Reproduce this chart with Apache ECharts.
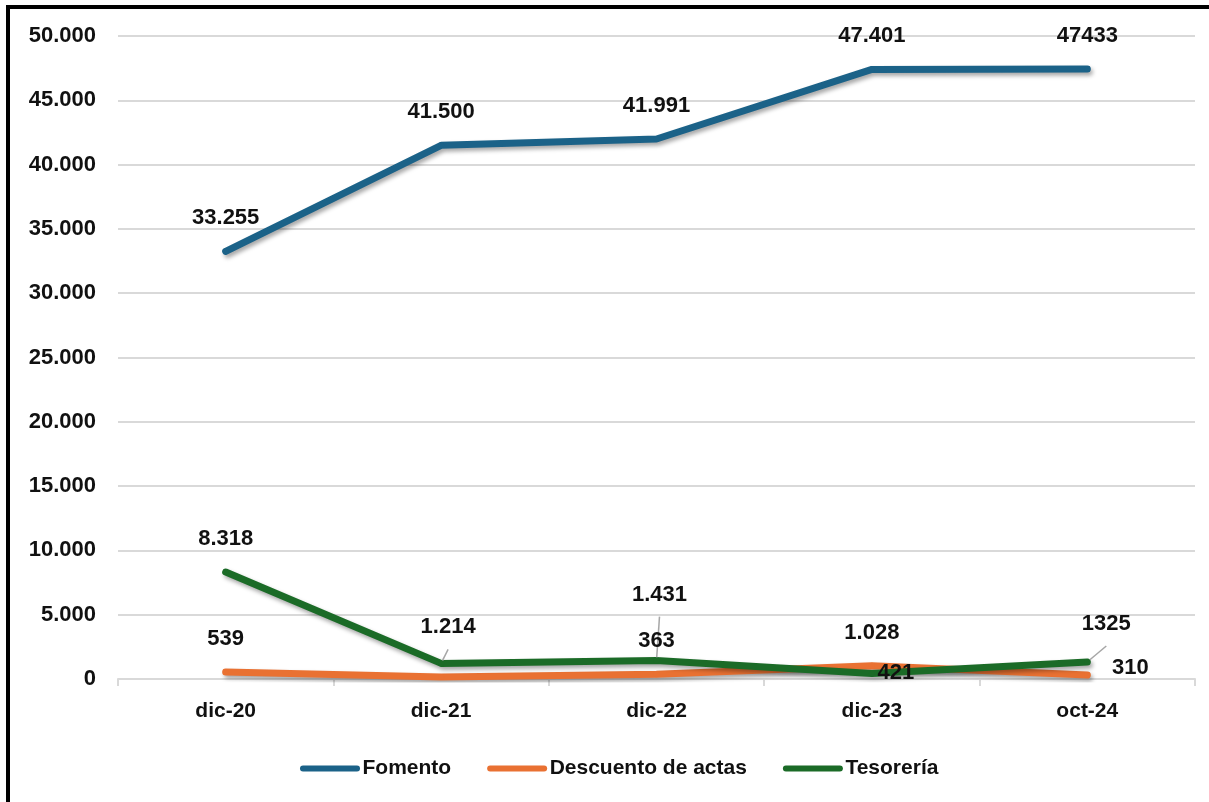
<!DOCTYPE html>
<html>
<head>
<meta charset="utf-8">
<script src="https://cdn.jsdelivr.net/npm/echarts@6/dist/echarts.min.js"></script>
<style>
html,body{margin:0;padding:0;background:#fff;}
#c{width:1209px;height:802px;}
</style>
</head>
<body>
<div id="c"></div>
<script>
const categories = ['dic-20', 'dic-21', 'dic-22', 'dic-23', 'oct-24'];
const fomento = [33255, 41500, 41991, 47401, 47433];
const descuento = [539, 150, 363, 1028, 310];
const tesoreria = [8318, 1214, 1431, 421, 1325];
const fomentoLabels = ['33.255', '41.500', '41.991', '47.401', '47433'];
const descuentoLabels = ['539', '', '363', '1.028', '310'];
const tesoreriaLabels = ['8.318', '1.214', '1.431', '421', '1325'];

// label placement tweaks per point: [dx, dy, leaderLine]
const descuentoAdj = [null, null, null, null, [43, 26, false]];
const tesoreriaAdj = [null, [7, -3, true], [3, -33, true], [24, 32, false], [19, -5, true]];

const FONT = 'Liberation Sans, Arial, sans-serif';

function buildData(values, labels, adj) {
  return values.map((v, i) => {
    const item = { value: v, label: { formatter: labels[i], show: labels[i] !== '' } };
    if (adj && adj[i]) {
      item.label.offset = [adj[i][0], adj[i][1]];
      if (adj[i][2]) item.labelLine = { show: true };
    }
    return item;
  });
}

function fmt(v) {
  return String(v).replace(/\B(?=(\d{3})+(?!\d))/g, '.');
}

function makeSeries(name, color, values, labels, adj) {
  return {
    name: name,
    type: 'line',
    data: buildData(values, labels, adj),
    symbol: 'circle',
    symbolSize: 6,
    itemStyle: { color: color },
    lineStyle: {
      color: color, width: 7, cap: 'round', join: 'round',
      shadowColor: 'rgba(0,0,0,0.35)', shadowBlur: 4, shadowOffsetX: 2, shadowOffsetY: 3
    },
    label: {
      show: true, position: 'top', distance: 19,
      color: '#111', fontFamily: FONT, fontWeight: 'bold', fontSize: 22
    },
    labelLine: { show: false, lineStyle: { color: '#a6a6a6', width: 1.5 } },
    animation: false
  };
}

const legendIcon = 'path://M3,0 H57 A3,3 0 0 1 57,6 H3 A3,3 0 0 1 3,0 Z';

const chart = echarts.init(document.getElementById('c'));
chart.setOption({
  backgroundColor: '#ffffff',
  animation: false,
  grid: { left: 118, right: 14, top: 36, bottom: 123, containLabel: false },
  xAxis: {
    type: 'category',
    data: categories,
    boundaryGap: true,
    axisLine: { lineStyle: { color: '#d9d9d9', width: 2 } },
    axisTick: { show: true, length: 7, lineStyle: { color: '#d9d9d9', width: 2 } },
    axisLabel: { color: '#111', fontFamily: FONT, fontWeight: 'bold', fontSize: 21, margin: 22 }
  },
  yAxis: {
    type: 'value',
    min: 0, max: 50000, interval: 5000,
    axisLine: { show: false },
    axisTick: { show: false },
    splitLine: { lineStyle: { color: '#d9d9d9', width: 2 } },
    axisLabel: { color: '#111', fontFamily: FONT, fontWeight: 'bold', fontSize: 22, margin: 22, formatter: fmt }
  },
  legend: {
    left: 295, top: 753,
    itemWidth: 61, itemHeight: 6, itemGap: 36,
    icon: legendIcon,
    textStyle: { color: '#111', fontFamily: FONT, fontWeight: 'bold', fontSize: 21, padding: [0, 0, 0, -3] },
    data: ['Fomento', 'Descuento de actas', 'Tesorería']
  },
  graphic: [
    { type: 'rect', shape: { x: 6, y: 5, width: 1203, height: 4 }, style: { fill: '#000' }, z: 100 },
    { type: 'rect', shape: { x: 6, y: 5, width: 4, height: 797 }, style: { fill: '#000' }, z: 100 }
  ],
  series: [
    makeSeries('Fomento', '#1b6288', fomento, fomentoLabels, null),
    makeSeries('Descuento de actas', '#e97132', descuento, descuentoLabels, descuentoAdj),
    makeSeries('Tesorería', '#1b6b27', tesoreria, tesoreriaLabels, tesoreriaAdj)
  ]
});
</script>
</body>
</html>
